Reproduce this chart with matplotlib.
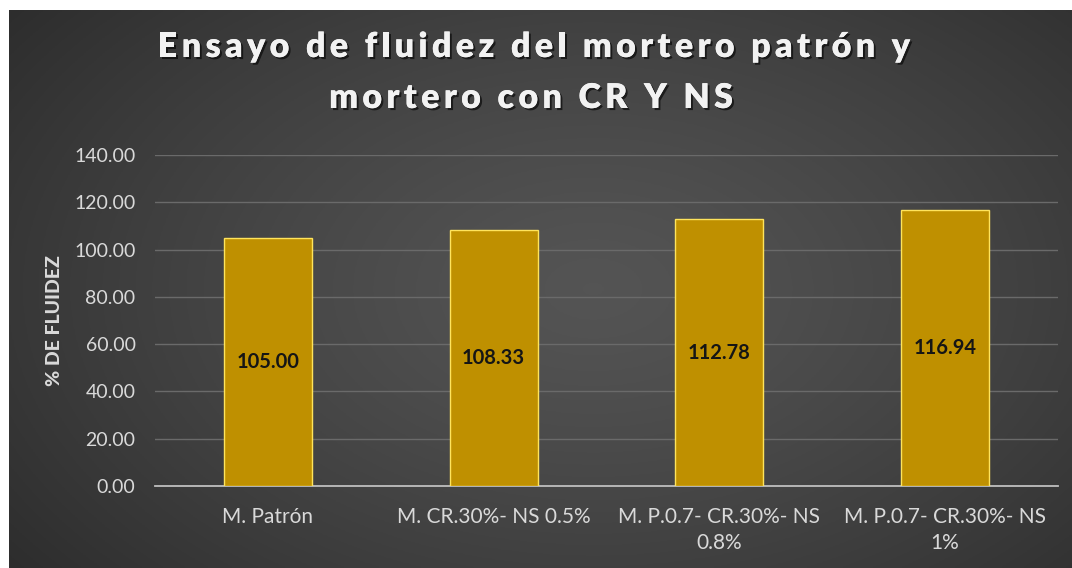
import numpy as np
import matplotlib.pyplot as plt
import matplotlib.patheffects as pe

categories = ["M. Patrón", "M. CR.30%- NS 0.5%", "M. P.0.7- CR.30%- NS\n0.8%", "M. P.0.7- CR.30%- NS\n1%"]
values = [105.00, 108.33, 112.78, 116.94]
yticks = [0, 20, 40, 60, 80, 100, 120, 140]

title_lines = ["Ensayo de fluidez del mortero patrón y", "mortero con CR Y NS"]
ylabel = "% DE FLUIDEZ"

plt.rcParams["font.family"] = ["Lato", "DejaVu Sans"]

W, H = 1072, 568
fig = plt.figure(figsize=(W / 100, H / 100), dpi=100, facecolor="white")

# dark radial gradient panel behind the chart
bg = fig.add_axes([9 / W, 0, 1 - 9 / W, 1 - 10 / H])
bg.set_axis_off()
gx, gy = np.meshgrid(np.linspace(0, 1, 400), np.linspace(0, 1, 220))
r = np.sqrt(((gx - 0.55) / 0.75) ** 2 + ((gy - 0.5) / 0.9) ** 2)
shade = np.clip(0.33 - 0.17 * r ** 1.3, 0.15, 0.34)
bg.imshow(np.dstack([shade] * 3), aspect="auto", extent=(0, 1, 0, 1))

ax = fig.add_axes([155 / W, 1 - 486 / H, (1058 - 155) / W, (486 - 155) / H])
ax.patch.set_alpha(0)
x = np.arange(len(categories))
bars = ax.bar(x, values, width=0.39, color="#BF9000", edgecolor="#FFE45C", linewidth=1.0, zorder=3)
for b, v in zip(bars, values):
    ax.text(b.get_x() + b.get_width() / 2, v / 2, f"{v:.2f}", ha="center", va="center",
            fontsize=14.5, fontweight="bold", color="#151515", zorder=4)

ax.set_xlim(-0.5, len(categories) - 0.5)
ax.set_ylim(0, 140)
ax.set_yticks(yticks)
ax.set_yticklabels([f"{t:.2f}" for t in yticks], color="#d9d9d9", fontsize=14)
ax.set_xticks(x)
ax.set_xticklabels(categories, color="#d9d9d9", fontsize=15, linespacing=1.4)
ax.tick_params(length=0)
ax.tick_params(axis="y", pad=14)
ax.tick_params(axis="x", pad=15)
ax.grid(axis="y", color="#6a6a6a", linewidth=1.0, zorder=0)
for s in ["top", "right", "left"]:
    ax.spines[s].set_visible(False)
ax.spines["bottom"].set_color("#bfbfbf")
ax.spines["bottom"].set_linewidth(1.3)
ax.set_ylabel(ylabel, color="#d9d9d9", fontsize=14, fontweight="black", labelpad=8)

# title drawn character by character to get the wide letter spacing
renderer = fig.canvas.get_renderer()
tsize = 24.5
shadow = [pe.withSimplePatchShadow(offset=(1.5, -1.5), shadow_rgbFace="black", alpha=0.6), pe.Normal()]


def text_w(s):
    t = fig.text(0, 0, s, fontsize=tsize, fontweight="heavy")
    w = t.get_window_extent(renderer).width
    t.remove()
    return w


base = text_w("HH")
line1_width = 752
for line, baseline, cx in zip(title_lines, [57, 108], [534, 531]):
    adv = [text_w("H" + c + "H") - base for c in line]
    if line is title_lines[0]:
        gap = (line1_width - sum(adv)) / (len(line) - 1)
    total = sum(adv) + gap * (len(line) - 1)
    px = cx - total / 2
    for c, a in zip(line, adv):
        if c != " ":
            fig.text(px / W, 1 - baseline / H, c, ha="left", va="baseline", fontsize=tsize,
                     fontweight="heavy", color="#f2f2f2", path_effects=shadow)
        px += a + gap

fig.savefig("out.png", dpi=100, facecolor="white")
